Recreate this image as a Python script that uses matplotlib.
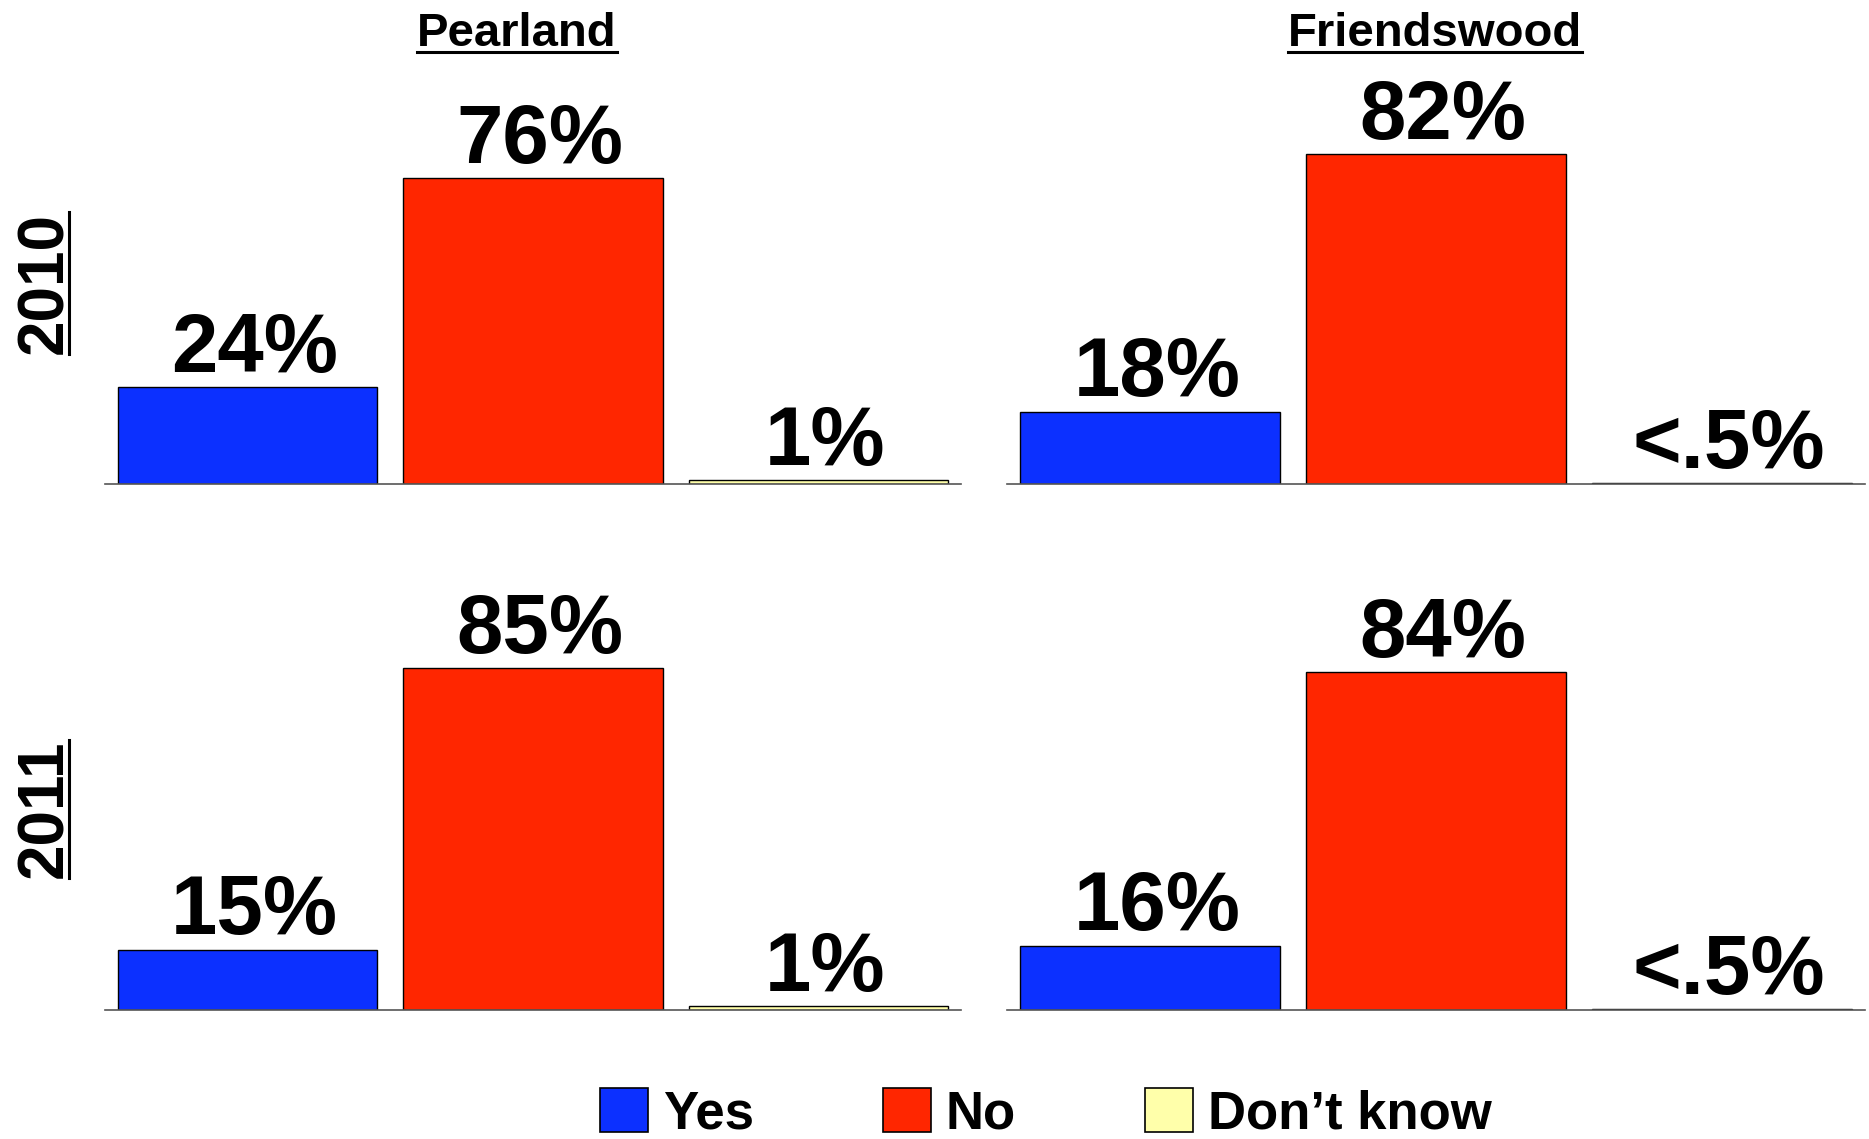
import numpy as np
import matplotlib.pyplot as plt
from matplotlib.patches import Patch
from matplotlib.lines import Line2D

plt.rcParams['font.family'] = ['Liberation Sans', 'DejaVu Sans']

# data
cities = ['Pearland', 'Friendswood']
years = ['2010', '2011']
answers = ['Yes', 'No', 'Don\u2019t know']
colors = ['#0C30FF', '#FF2600', '#FFFFAA']

pearland_2010 = [24, 76, 1]
friendswood_2010 = [18, 82, 0.3]
pearland_2011 = [15, 85, 1]
friendswood_2011 = [16, 84, 0.3]

pearland_2010_lbl = ['24%', '76%', '1%']
friendswood_2010_lbl = ['18%', '82%', '<.5%']
pearland_2011_lbl = ['15%', '85%', '1%']
friendswood_2011_lbl = ['16%', '84%', '<.5%']

panels = [[(pearland_2010, pearland_2010_lbl), (friendswood_2010, friendswood_2010_lbl)],
          [(pearland_2011, pearland_2011_lbl), (friendswood_2011, friendswood_2011_lbl)]]

W, H = 1869, 1139
fig = plt.figure(figsize=(W / 100, H / 100), dpi=100)

# axes layout in pixels of the final image
col_left = [105, 1007]
col_width = [856, 858]
row_base = [484, 1010]
ax_h = 100 * 4.026

x = np.arange(len(answers))
for r, year in enumerate(years):
    for c, city in enumerate(cities):
        vals, lbls = panels[r][c]
        ax = fig.add_axes([col_left[c] / W, 1 - row_base[r] / H, col_width[c] / W, ax_h / H])
        ax.bar(x, vals, width=0.91, color=colors, edgecolor='black', linewidth=1)
        for xi, v, lb in zip(x, vals, lbls):
            ax.annotate(lb, (xi, v), xytext=(5, 11), textcoords='offset points',
                        ha='center', va='baseline', fontsize=60, fontweight='bold',
                        annotation_clip=False)
        ax.set_xlim(-0.5, 2.5)
        ax.set_ylim(0, 100)
        for s in ['top', 'left', 'right']:
            ax.spines[s].set_visible(False)
        ax.spines['bottom'].set_color('#555555')
        ax.spines['bottom'].set_linewidth(1.2)
        ax.set_xticks([])
        ax.set_yticks([])
        ax.patch.set_alpha(0)

# column titles and row labels
title_x = [517, 1435]
title_base = 46
titles = [fig.text(tx / W, 1 - title_base / H, city, ha='center', va='baseline',
                   fontsize=34, fontweight='bold') for tx, city in zip(title_x, cities)]

year_base = 62
year_y = [283, 809]
ylabels = [fig.text(year_base / W, 1 - yy / H, year, rotation=90, rotation_mode='anchor',
                    ha='center', va='baseline', fontsize=46, fontweight='bold')
           for yy, year in zip(year_y, years)]

# underlines
fig.canvas.draw()
rend = fig.canvas.get_renderer()
inv = fig.transFigure.inverted()
for t in titles:
    bb = t.get_window_extent(rend).transformed(inv)
    yl = 1 - (title_base + 6) / H
    fig.add_artist(Line2D([bb.x0, bb.x1], [yl, yl], transform=fig.transFigure,
                          color='black', lw=2.2))
for t in ylabels:
    bb = t.get_window_extent(rend).transformed(inv)
    xl = (year_base + 7) / W
    fig.add_artist(Line2D([xl, xl], [bb.y0, bb.y1], transform=fig.transFigure,
                          color='black', lw=2.2))

handles = [Patch(facecolor=col, edgecolor='black', linewidth=1.2) for col in colors]
fig.legend(handles, answers, loc='center', bbox_to_anchor=(1046 / W, 0.022), ncol=3,
           frameon=False, prop={'weight': 'bold', 'size': 38}, handlelength=0.91,
           handleheight=0.89, handletextpad=0.28, columnspacing=2.45, borderpad=0,
           borderaxespad=0)

fig.savefig('out.png', dpi=100)
